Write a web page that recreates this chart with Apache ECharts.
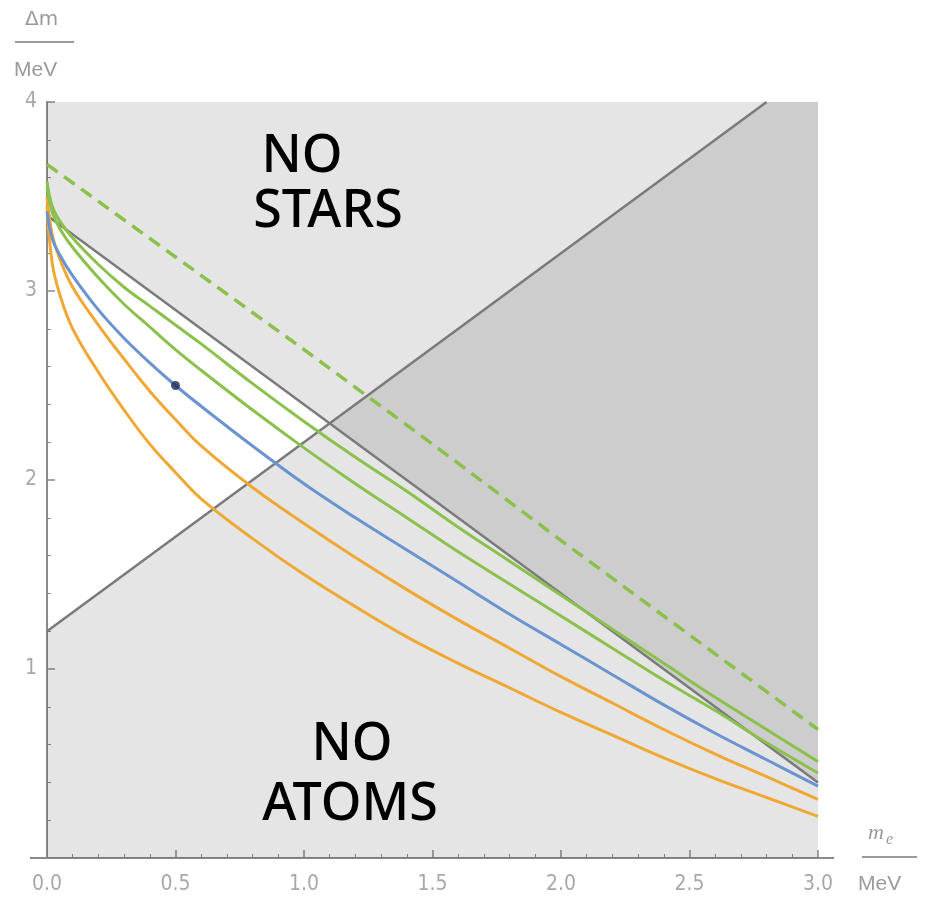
<!DOCTYPE html>
<html>
<head>
<meta charset="utf-8">
<script src="https://cdn.jsdelivr.net/npm/echarts@6/dist/echarts.min.js"></script>
<style>
html,body{margin:0;padding:0;background:#fff;}
#main{width:928px;height:900px;}
</style>
</head>
<body>
<div id="main"></div>
<script>
// x positions (m_e, MeV) for the curves
var mVals  = [0, 0.02, 0.05, 0.1, 0.2, 0.3, 0.4, 0.5, 0.6, 0.8, 1.0, 1.2, 1.4, 1.6, 1.8, 2.0, 2.2, 2.4, 2.6, 2.8, 3.0];
var green1 = [3.58, 3.45, 3.37, 3.28, 3.14, 3.02, 2.92, 2.82, 2.72, 2.51, 2.31, 2.12, 1.94, 1.75, 1.57, 1.39, 1.21, 1.03, 0.85, 0.68, 0.51];
var green2 = [3.55, 3.42, 3.33, 3.23, 3.07, 2.93, 2.81, 2.69, 2.58, 2.37, 2.17, 1.98, 1.80, 1.62, 1.45, 1.28, 1.11, 0.94, 0.78, 0.61, 0.45];
var blue   = [3.42, 3.28, 3.19, 3.08, 2.90, 2.75, 2.62, 2.50, 2.39, 2.18, 1.98, 1.80, 1.63, 1.46, 1.29, 1.13, 0.97, 0.81, 0.66, 0.52, 0.38];
var orange1= [3.50, 3.30, 3.17, 3.02, 2.82, 2.64, 2.47, 2.32, 2.18, 1.96, 1.77, 1.59, 1.42, 1.26, 1.11, 0.96, 0.82, 0.68, 0.55, 0.43, 0.31];
var orange2= [3.45, 3.15, 2.98, 2.80, 2.57, 2.37, 2.19, 2.04, 1.90, 1.69, 1.50, 1.33, 1.17, 1.03, 0.90, 0.77, 0.65, 0.53, 0.42, 0.32, 0.22];
// dashed green line
var dashedM  = [0, 0.5, 1.0, 1.5, 2.0, 2.5, 3.0];
var dashedDm = [3.67, 3.18, 2.69, 2.19, 1.68, 1.18, 0.68];
// boundary lines
var atomsM  = [0, 2.8, 3.0];
var atomsDm = [1.2, 4.0, 4.0];
var starsM  = [0, 3.0];
var starsDm = [3.4, 0.4];
// physical point
var ourPoint = [0.5, 2.5];
// axis ticks
var xTicks = ['0.0','0.5','1.0','1.5','2.0','2.5','3.0'];
var yTicks = ['', '1', '2', '3', '4'];

function zip(xs, ys){ return xs.map(function(x,i){ return [x, ys[i]]; }); }

var chart = echarts.init(document.getElementById('main'), null, {renderer:'canvas'});
var axisColor = '#8a8a8a';
var labelColor = '#a8a8a8';
var G = '#8cc04c', B = '#6a93cf', O = '#efa833', GR = '#7a7a7a';

function curve(data, color, smooth, extra){
  var s = {type:'line', data:data, symbol:'none', smooth:smooth, z:5,
    lineStyle:{color:color, width:3}, silent:true};
  if (extra) for (var k in extra) s.lineStyle[k] = extra[k];
  return s;
}

chart.setOption({
  animation:false,
  backgroundColor:'#ffffff',
  grid:{left:47, right:110, top:102, bottom:42},
  xAxis:{type:'value', min:0, max:3, interval:0.5,
    axisLine:{show:true, lineStyle:{color:axisColor, width:2}},
    axisTick:{show:true, inside:true, length:8, lineStyle:{color:axisColor, width:1.5}},
    minorTick:{show:true, splitNumber:5, length:4, lineStyle:{color:axisColor}},
    splitLine:{show:false},
    axisLabel:{color:labelColor, fontSize:21, fontFamily:'Liberation Sans Narrow, DejaVu Sans Condensed, sans-serif', margin:16,
      formatter:function(v){ var i = Math.round(v/0.5); return xTicks[i] || ''; }}
  },
  yAxis:{type:'value', min:0, max:4, interval:1,
    axisLine:{show:true, lineStyle:{color:axisColor, width:2}},
    axisTick:{show:true, inside:true, length:8, lineStyle:{color:axisColor, width:1.5}},
    minorTick:{show:true, splitNumber:5, length:4, lineStyle:{color:axisColor}},
    splitLine:{show:false},
    axisLabel:{color:labelColor, fontSize:21, fontFamily:'Liberation Sans Narrow, DejaVu Sans Condensed, sans-serif', margin:10,
      formatter:function(v){ return yTicks[Math.round(v)] || ''; }}
  },
  series:[
    {type:'line', data:zip(atomsM, atomsDm), symbol:'none', silent:true, z:1,
      lineStyle:{width:0, opacity:0}, areaStyle:{color:'rgba(0,0,0,0.1)', origin:'start', opacity:1}},
    {type:'line', data:zip(starsM, starsDm), symbol:'none', silent:true, z:1,
      lineStyle:{width:0, opacity:0}, areaStyle:{color:'rgba(0,0,0,0.1)', origin:'end', opacity:1}},
    {type:'line', data:zip(atomsM.slice(0,2), atomsDm.slice(0,2)), symbol:'none', silent:true, z:3,
      lineStyle:{color:GR, width:2.5}},
    {type:'line', data:zip(starsM, starsDm), symbol:'none', silent:true, z:3,
      lineStyle:{color:GR, width:2.5}},
    curve(zip(dashedM, dashedDm), G, false, {type:[13,8], width:3.5}),
    curve(zip(mVals, orange2), O, 0.4),
    curve(zip(mVals, orange1), O, 0.4),
    curve(zip(mVals, blue), B, 0.4),
    curve(zip(mVals, green2), G, 0.4),
    curve(zip(mVals, green1), G, 0.4),
    {type:'scatter', data:[ourPoint], symbolSize:9, z:10, silent:true,
      itemStyle:{color:'#1e2d52'}}
  ],
  graphic:[
    {type:'line', shape:{x1:30, y1:858, x2:834, y2:858}, style:{stroke:axisColor, lineWidth:2}, z:-1},
    {type:'text', left:25, top:10, style:{text:'Δm', fill:'#9a9a9a', font:'20px "DejaVu Sans"'}},
    {type:'line', shape:{x1:15, y1:42, x2:74, y2:42}, style:{stroke:'#9a9a9a', lineWidth:2}},
    {type:'text', left:14, top:60, style:{text:'MeV', fill:'#9a9a9a', font:'21px "Liberation Sans"'}},
    {type:'text', left:868, top:822, style:{text:'m', fill:'#9a9a9a', font:'italic 22px "Liberation Serif"'}},
    {type:'text', left:886, top:832, style:{text:'e', fill:'#9a9a9a', font:'italic 16px "Liberation Serif"'}},
    {type:'line', shape:{x1:862, y1:857, x2:917, y2:857}, style:{stroke:'#9a9a9a', lineWidth:2}},
    {type:'text', left:858, top:874, style:{text:'MeV', fill:'#9a9a9a', font:'21px "Liberation Sans"'}},
    {type:'text', x:302, y:157, style:{text:'NO', fill:'#000', align:'center', verticalAlign:'middle', font:'500 52px "Noto Sans"'}},
    {type:'text', x:328, y:212, style:{text:'STARS', fill:'#000', align:'center', verticalAlign:'middle', font:'500 52px "Noto Sans"'}},
    {type:'text', x:352, y:745, style:{text:'NO', fill:'#000', align:'center', verticalAlign:'middle', font:'500 52px "Noto Sans"'}},
    {type:'text', x:350, y:805, style:{text:'ATOMS', fill:'#000', align:'center', verticalAlign:'middle', font:'500 52px "Noto Sans"'}}
  ]
});
</script>
</body>
</html>
